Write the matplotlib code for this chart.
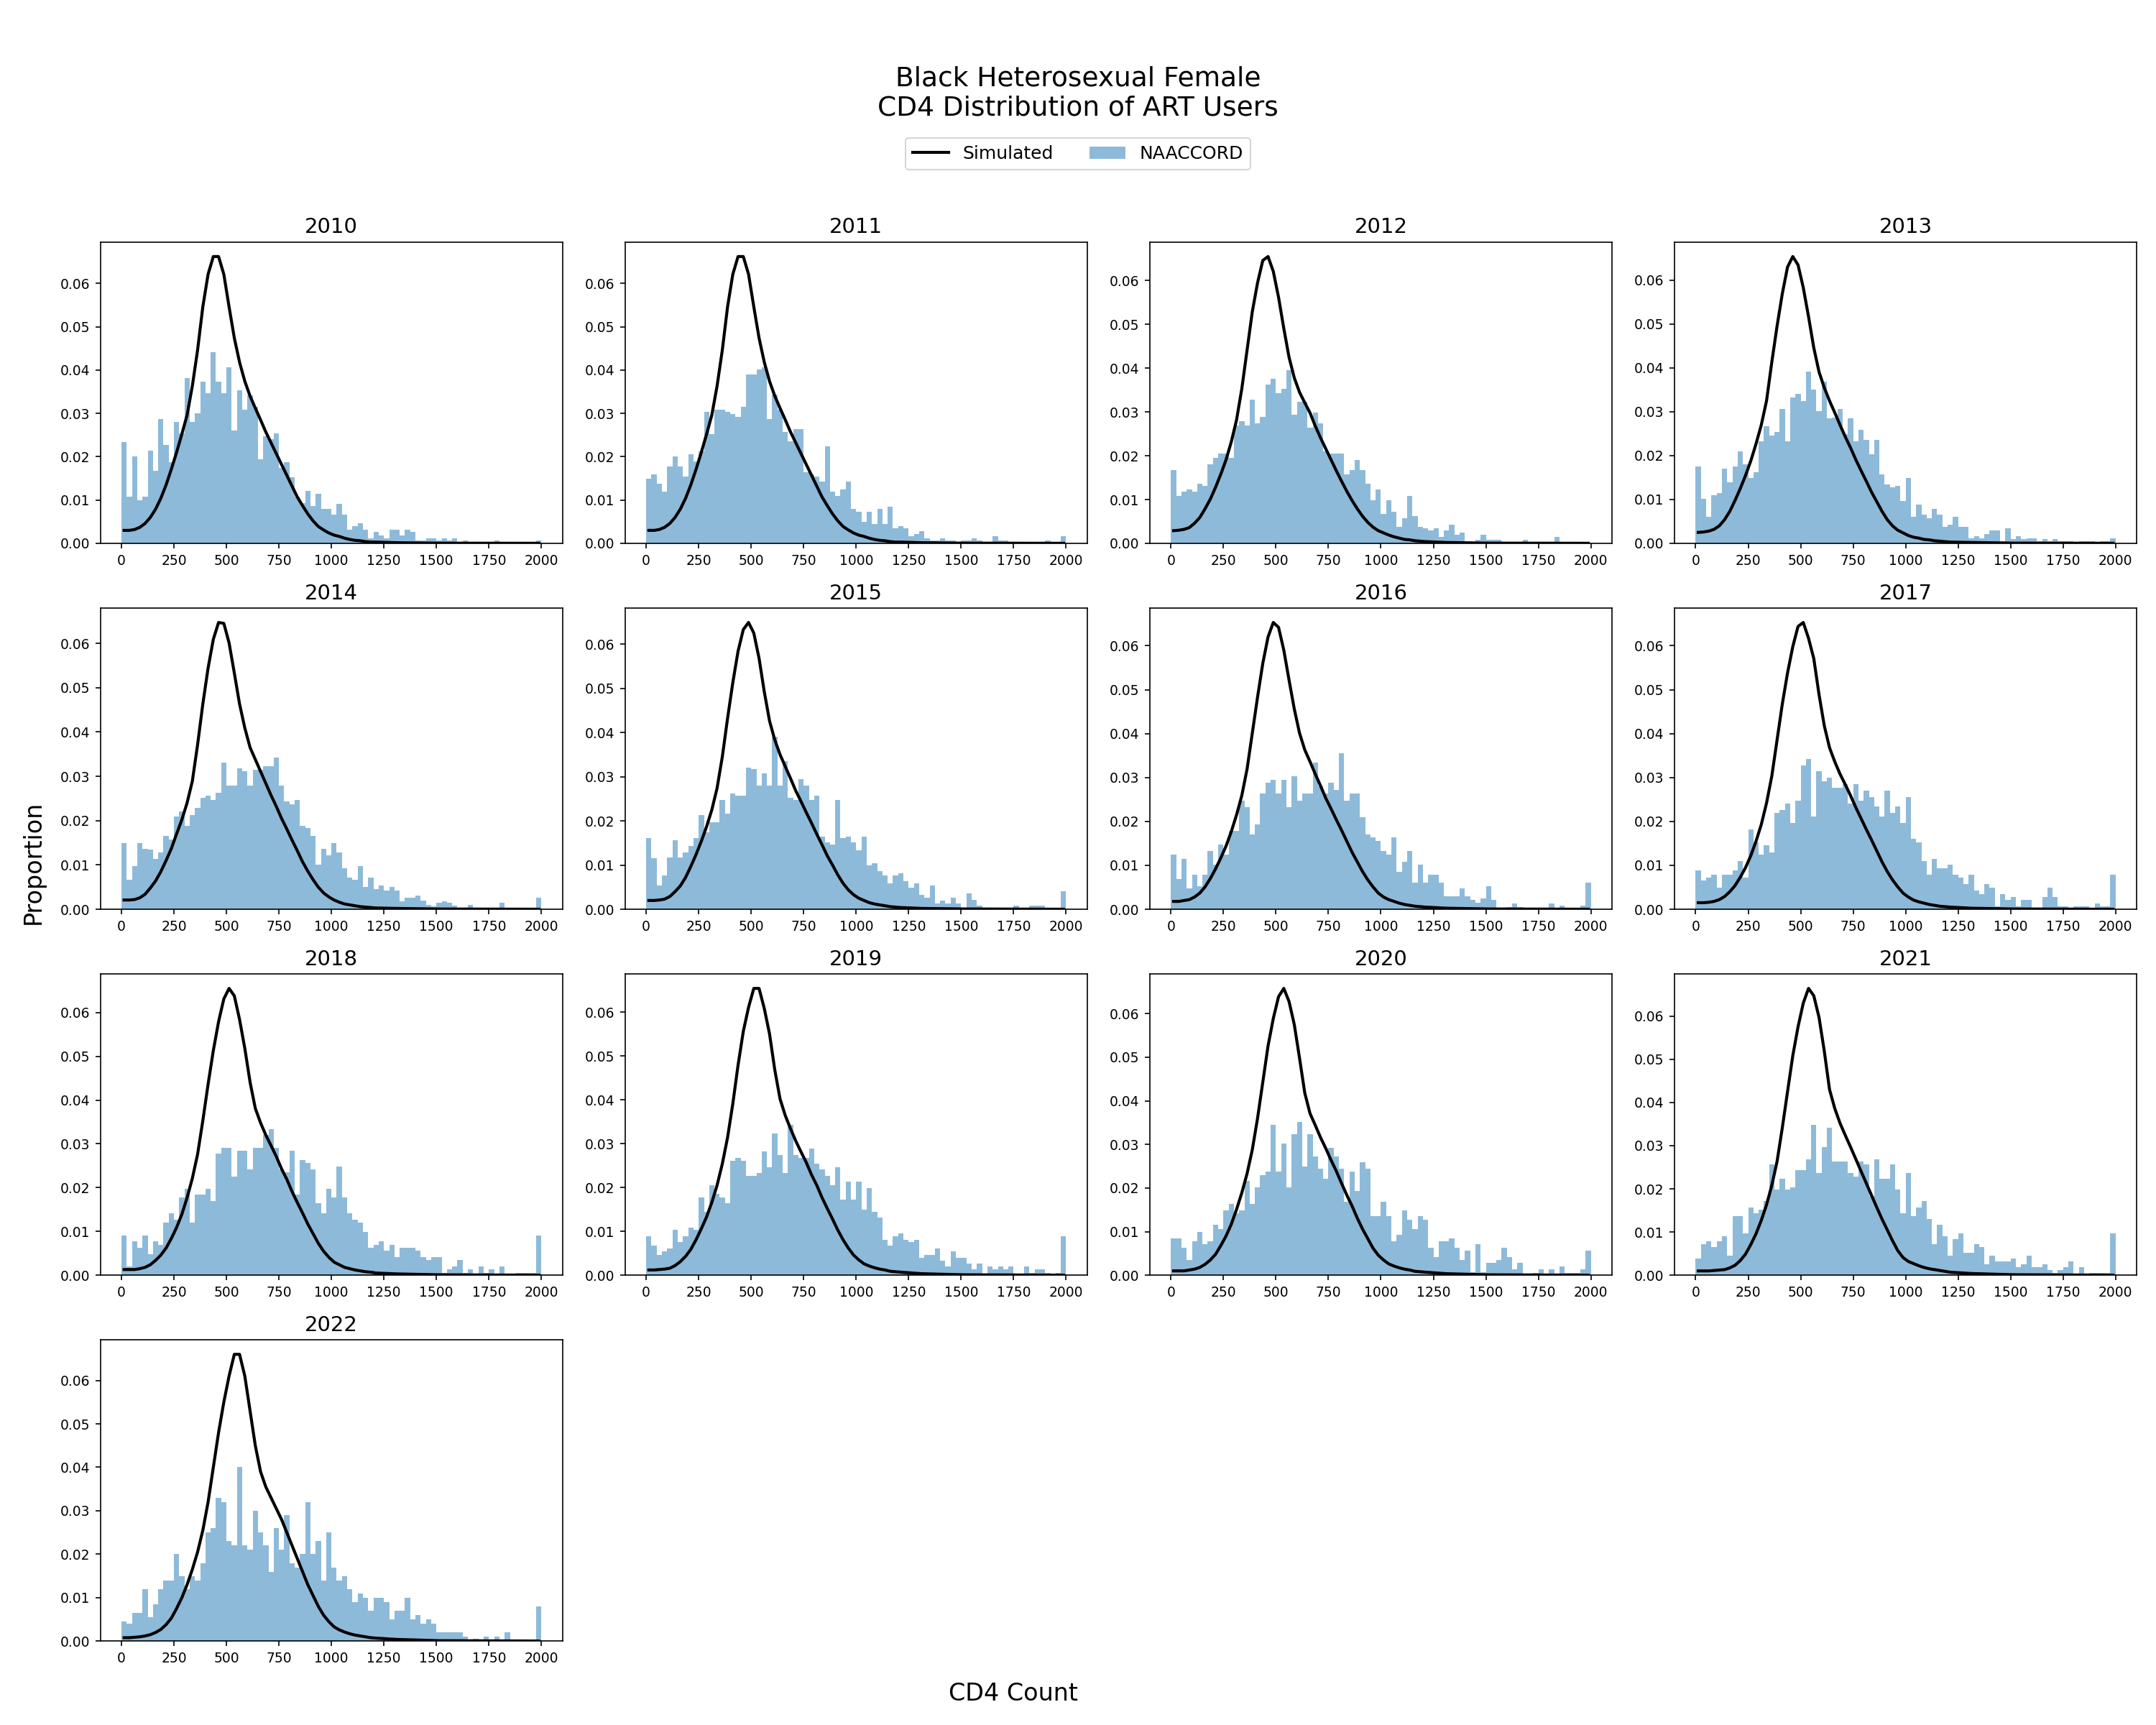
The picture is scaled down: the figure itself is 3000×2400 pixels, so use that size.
import matplotlib.pyplot as plt
import numpy as np

# NAACCORD histogram uses 25-wide CD4 bins from 0 to 2000
BIN_WIDTH = 25
BIN_EDGES = np.arange(0, 2000 + BIN_WIDTH, BIN_WIDTH)

# simulated curve is read at bin centres up to 1212.5, then a few tail points
SIM_X = list(np.arange(12.5, 1225, 25)) + [1312.5, 1512.5, 1987.5]

years = [2010, 2011, 2012, 2013, 2014, 2015, 2016, 2017, 2018, 2019, 2020, 2021, 2022]

# all values below are proportions x 1000

naaccord_2010 = [23.4, 10.7, 20.0, 10.0, 10.7, 21.4, 16.8, 28.7, 22.7, 18.7,
                 28.1, 25.4, 38.1, 28.1, 30.1, 37.4, 34.7, 44.1, 37.4, 34.7,
                 40.7, 26.1, 35.4, 30.8, 34.1, 31.5, 19.4, 24.7, 24.1, 25.4,
                 17.4, 18.7, 15.2, 10.7, 9.3, 12.1, 8.6, 11.4, 7.9, 7.9,
                 6.6, 9.2, 6.6, 3.2, 3.9, 4.6, 3.2, 1.2, 2.6, 1.9,
                 1.2, 3.2, 3.2, 1.9, 3.2, 2.6, 0.6, 0.6, 1.2, 1.2,
                 0.6, 1.2, 0.6, 1.2, 0, 0.6, 0, 0, 0, 0,
                 0, 0.6, 0, 0, 0, 0, 0, 0, 0, 0.6]
sim_2010 = [3.0, 3.0, 3.2, 3.7, 4.6, 6.0, 7.9, 10.4, 13.5, 17.1,
            21.0, 25.2, 29.6, 36.3, 44.6, 54.6, 62.1, 66.2, 66.2, 62.1,
            54.6, 47.4, 41.8, 37.4, 34.0, 31.2, 28.5, 25.7, 23.2, 20.7,
            18.2, 15.7, 13.2, 10.7, 8.7, 6.8, 5.2, 3.9, 3.1, 2.4,
            1.9, 1.6, 1.2, 0.9, 0.7, 0.6, 0.4, 0.3, 0.3, 0.15, 0.05, 0.02]

naaccord_2011 = [14.9, 16.0, 13.7, 12.0, 17.7, 20.0, 17.7, 15.4, 20.5, 18.9,
                 21.2, 30.3, 25.2, 30.8, 30.8, 30.3, 29.8, 29.2, 31.5, 39.0,
                 39.0, 40.2, 40.7, 28.7, 34.3, 30.8, 25.7, 23.5, 26.3, 26.3,
                 16.5, 16.0, 15.4, 14.2, 22.4, 12.0, 10.9, 12.5, 14.2, 8.0,
                 7.3, 5.0, 7.3, 4.5, 8.0, 4.5, 8.5, 3.4, 3.9, 3.4,
                 1.7, 2.2, 2.9, 1.1, 0.6, 0.6, 1.1, 0.6, 0.6, 0,
                 0.6, 0.6, 1.1, 0.6, 0, 0, 1.7, 0.6, 0.6, 0,
                 0, 0, 0, 0, 0, 0, 0.6, 0, 0, 1.7]
sim_2011 = [3.0, 3.0, 3.2, 3.7, 4.6, 6.0, 7.9, 10.4, 13.5, 17.1,
            21.0, 25.2, 29.6, 36.3, 44.6, 54.6, 62.1, 66.2, 66.2, 62.1,
            54.6, 47.4, 41.8, 37.4, 34.0, 31.2, 28.5, 25.7, 23.2, 20.7,
            18.2, 15.7, 13.2, 10.7, 8.7, 6.8, 5.2, 3.9, 3.1, 2.4,
            1.9, 1.6, 1.2, 0.9, 0.7, 0.6, 0.4, 0.3, 0.3, 0.15, 0.05, 0.02]

naaccord_2012 = [16.7, 10.8, 11.8, 12.3, 11.8, 13.7, 13.2, 18.0, 19.5, 20.5,
                 20.5, 19.5, 26.9, 27.9, 26.9, 32.9, 27.4, 28.9, 36.3, 37.6,
                 34.3, 35.3, 39.6, 29.4, 32.4, 32.4, 26.4, 29.9, 27.4, 21.0,
                 20.5, 20.5, 20.5, 15.7, 16.7, 19.0, 16.7, 13.7, 9.8, 12.3,
                 6.8, 9.8, 7.3, 3.8, 5.8, 10.8, 6.3, 3.8, 3.4, 2.9,
                 3.4, 1.4, 2.9, 4.3, 1.9, 2.4, 0, 0, 0.9, 1.9,
                 0.9, 0.9, 0.9, 0, 0.4, 0.4, 0.4, 0.9, 0.4, 0.4,
                 0.4, 0.4, 0.4, 1.4, 0.4, 0.4, 0, 0.4, 0, 0]
sim_2012 = [2.9, 3.0, 3.2, 3.6, 4.6, 5.9, 7.9, 10.1, 12.8, 15.8,
            19.1, 23.2, 28.2, 35.3, 44.1, 52.9, 59.5, 64.6, 65.5, 62.1,
            56.2, 49.1, 42.5, 37.8, 34.5, 32.1, 29.8, 26.8, 24.1, 21.6,
            19.1, 16.6, 14.2, 11.9, 9.8, 7.9, 6.2, 4.8, 3.7, 2.9,
            2.4, 1.9, 1.5, 1.2, 0.9, 0.8, 0.6, 0.5, 0.4, 0.2, 0.06, 0.02]

naaccord_2013 = [17.5, 10.1, 6.1, 10.9, 11.4, 17.0, 14.0, 17.5, 20.9, 18.0,
                 14.9, 16.2, 23.3, 26.7, 24.6, 25.4, 30.7, 23.3, 33.3, 34.1,
                 32.5, 39.1, 35.1, 30.2, 36.8, 28.5, 28.7, 30.7, 24.9, 28.5,
                 23.3, 25.9, 23.6, 20.3, 23.6, 15.7, 13.5, 12.7, 13.1, 9.6,
                 14.9, 6.1, 8.8, 6.5, 5.7, 7.8, 6.5, 3.8, 4.3, 6.1,
                 3.8, 3.8, 1.2, 1.7, 1.2, 2.2, 3.0, 3.0, 0.5, 3.5,
                 0.9, 1.7, 0.9, 1.2, 1.2, 0.5, 0.9, 0.5, 0.9, 0.5,
                 0.5, 0.5, 0, 0.5, 0.5, 0.5, 0, 0.5, 0.5, 1.2]
sim_2013 = [2.5, 2.6, 2.8, 3.2, 4.0, 5.4, 7.3, 9.8, 12.5, 15.5,
            18.8, 22.7, 27.0, 32.5, 41.3, 49.5, 56.9, 63.0, 65.4, 63.5,
            58.3, 51.7, 44.6, 39.1, 35.5, 32.5, 29.8, 27.0, 24.3, 21.8,
            19.1, 16.6, 14.2, 11.7, 9.5, 7.3, 5.4, 4.0, 3.0, 2.4,
            1.8, 1.4, 1.2, 0.9, 0.8, 0.6, 0.5, 0.4, 0.3, 0.2, 0.06, 0.02]

naaccord_2014 = [14.9, 6.6, 9.8, 14.9, 13.7, 13.4, 11.3, 12.9, 16.5, 15.7,
                 20.9, 22.0, 18.8, 21.2, 22.8, 25.1, 25.6, 24.7, 26.3, 33.1,
                 27.9, 27.9, 31.8, 31.1, 27.9, 31.5, 31.5, 32.3, 32.3, 34.2,
                 27.9, 24.3, 23.7, 24.7, 18.8, 18.4, 16.5, 10.1, 13.7, 12.1,
                 14.9, 12.9, 9.3, 7.1, 6.6, 9.8, 5.1, 7.1, 4.6, 5.4,
                 4.3, 5.1, 4.3, 1.8, 2.6, 2.6, 3.1, 2.0, 1.0, 0.7,
                 1.5, 1.8, 1.4, 0.9, 0.4, 0.4, 1.0, 0.4, 0.4, 0.4,
                 0.4, 0.4, 1.5, 0.4, 0.4, 0.4, 0.4, 0.4, 0.4, 2.6]
sim_2014 = [2.1, 2.1, 2.2, 2.6, 3.4, 4.8, 6.4, 8.5, 11.0, 13.7,
            17.0, 20.2, 24.0, 28.9, 37.1, 46.3, 54.4, 60.9, 64.7, 64.5,
            60.1, 53.3, 46.3, 40.9, 36.5, 33.8, 31.1, 28.4, 25.7, 23.2,
            20.5, 18.1, 15.6, 13.2, 10.7, 8.6, 6.7, 5.0, 3.7, 2.8,
            2.1, 1.6, 1.2, 1.0, 0.8, 0.6, 0.5, 0.4, 0.3, 0.2, 0.07, 0.02]

naaccord_2015 = [16.1, 11.5, 5.4, 7.7, 11.8, 15.6, 11.8, 12.8, 14.3, 16.1,
                 21.3, 17.4, 19.7, 19.7, 24.8, 21.6, 26.2, 25.7, 25.7, 32.1,
                 31.7, 28.0, 30.8, 28.0, 39.1, 28.0, 33.5, 25.2, 24.7, 29.5,
                 28.0, 24.7, 25.7, 16.5, 15.1, 14.6, 24.7, 16.1, 16.5, 15.1,
                 13.3, 16.5, 10.0, 10.5, 8.7, 7.7, 5.9, 7.7, 8.2, 6.4,
                 4.9, 5.9, 3.2, 2.7, 5.4, 1.4, 1.9, 1.4, 2.7, 1.4,
                 0.4, 3.6, 2.2, 0.9, 0.4, 0, 0.4, 0.4, 0.4, 0.4,
                 0.9, 0.4, 0.4, 0.9, 0.9, 0.9, 0.4, 0.4, 0.4, 4.1]
sim_2015 = [2.0, 2.0, 2.1, 2.3, 2.9, 4.0, 5.3, 7.2, 9.7, 12.4,
            15.4, 18.7, 22.5, 27.4, 34.5, 43.2, 51.3, 58.4, 63.3, 64.9,
            62.5, 56.8, 49.2, 42.6, 38.3, 35.0, 32.3, 29.6, 26.8, 24.4,
            21.9, 19.5, 17.0, 14.6, 12.1, 10.0, 7.8, 5.9, 4.4, 3.3,
            2.5, 2.0, 1.5, 1.2, 1.0, 0.8, 0.6, 0.5, 0.4, 0.2, 0.08, 0.02]

naaccord_2016 = [12.4, 6.9, 11.5, 4.7, 7.8, 5.3, 7.8, 13.2, 10.1, 14.7,
                 12.4, 17.8, 17.8, 24.8, 23.2, 17.0, 19.4, 26.3, 28.8, 29.4,
                 26.3, 29.4, 23.2, 30.3, 24.8, 26.3, 26.3, 33.4, 28.0, 26.3,
                 28.8, 27.1, 35.6, 24.8, 26.3, 26.3, 20.9, 17.0, 16.3, 15.5,
                 13.2, 12.4, 16.3, 8.5, 10.8, 13.2, 6.1, 10.1, 6.1, 7.8,
                 7.8, 6.1, 3.0, 3.0, 3.0, 4.7, 3.0, 2.2, 1.5, 2.4,
                 5.3, 2.2, 0.4, 0, 0.5, 1.4, 0.5, 0.4, 0.4, 0.4,
                 0.4, 0.4, 1.4, 0.4, 0.9, 0.4, 0.4, 0.4, 0.9, 6.1]
sim_2016 = [1.8, 1.8, 2.0, 2.2, 2.8, 3.7, 5.1, 7.0, 9.2, 11.7,
            14.4, 17.7, 21.5, 25.9, 31.9, 40.1, 48.3, 56.0, 62.0, 65.3,
            64.2, 59.0, 52.2, 45.6, 40.1, 36.3, 33.6, 30.8, 28.1, 25.3,
            22.9, 20.4, 18.0, 15.5, 13.0, 10.8, 8.6, 6.7, 5.1, 3.7,
            2.8, 2.2, 1.8, 1.4, 1.1, 0.9, 0.7, 0.6, 0.5, 0.25, 0.08, 0.02]

naaccord_2017 = [8.8, 6.5, 7.3, 7.9, 5.0, 7.9, 7.9, 8.8, 10.9, 7.3,
                 18.1, 15.3, 12.4, 14.5, 13.0, 21.9, 22.6, 24.0, 19.6, 24.7,
                 32.7, 34.2, 21.1, 31.4, 29.1, 29.9, 27.6, 27.6, 28.5, 24.0,
                 28.5, 24.7, 27.0, 25.5, 23.4, 21.1, 27.0, 21.9, 23.4, 19.6,
                 25.5, 16.0, 15.3, 10.9, 7.9, 11.5, 9.4, 9.4, 10.2, 7.9,
                 7.3, 5.8, 7.9, 4.3, 3.5, 5.8, 5.0, 0.7, 3.5, 2.2,
                 2.8, 0.7, 2.2, 2.2, 0, 0, 2.8, 5.0, 2.8, 0.7,
                 0.7, 0, 0.7, 0.7, 0.7, 0, 1.4, 0.7, 0.7, 7.9]
sim_2017 = [1.5, 1.5, 1.6, 1.8, 2.2, 2.9, 4.0, 5.4, 7.3, 9.5,
            12.2, 15.5, 19.3, 24.2, 30.3, 38.5, 46.7, 53.8, 59.8, 64.4,
            65.3, 61.7, 57.1, 48.9, 41.8, 36.8, 33.6, 30.8, 28.4, 25.9,
            23.2, 20.7, 18.2, 15.8, 13.3, 10.8, 8.6, 6.7, 5.1, 3.7,
            2.8, 2.1, 1.7, 1.4, 1.1, 0.9, 0.7, 0.6, 0.5, 0.25, 0.08, 0.02]

naaccord_2018 = [9.1, 2.0, 7.8, 6.3, 9.1, 4.8, 7.8, 7.0, 12.1, 14.2,
                 12.7, 17.7, 19.8, 12.1, 18.5, 18.5, 19.8, 17.0, 27.7, 29.1,
                 29.1, 22.6, 28.4, 28.4, 24.1, 29.1, 29.1, 32.0, 33.4, 29.1,
                 24.1, 23.5, 28.4, 18.5, 26.3, 25.6, 24.1, 16.4, 14.2, 19.8,
                 17.7, 24.8, 17.7, 14.2, 12.7, 12.1, 9.9, 6.3, 7.0, 7.8,
                 5.7, 7.0, 4.2, 6.3, 6.3, 6.3, 5.7, 4.2, 3.5, 4.2,
                 4.2, 0.5, 1.4, 2.0, 3.5, 0.5, 1.4, 0, 2.0, 0.5,
                 1.4, 0, 2.0, 0, 0, 0.5, 0.5, 0.5, 0.5, 9.1]
sim_2018 = [1.3, 1.3, 1.3, 1.5, 1.8, 2.4, 3.4, 4.6, 6.2, 8.4,
            10.9, 13.9, 17.7, 22.1, 27.6, 35.3, 43.6, 51.3, 57.9, 63.1,
            65.5, 63.8, 58.4, 51.8, 44.1, 38.1, 34.8, 32.0, 29.6, 27.1,
            24.3, 21.9, 19.1, 16.6, 14.2, 11.7, 9.5, 7.3, 5.5, 4.1,
            3.0, 2.4, 1.8, 1.5, 1.2, 1.0, 0.8, 0.7, 0.5, 0.3, 0.1, 0.02]

naaccord_2019 = [8.9, 6.8, 4.7, 5.5, 6.1, 10.3, 7.5, 8.9, 10.9, 10.3,
                 17.8, 14.4, 20.6, 18.5, 17.8, 16.5, 26.1, 26.7, 26.1, 22.6,
                 22.6, 23.3, 28.2, 24.7, 32.3, 27.4, 23.3, 34.3, 27.4, 26.7,
                 26.7, 28.9, 25.4, 24.1, 22.6, 20.6, 24.7, 17.2, 21.3, 17.2,
                 21.3, 15.0, 19.8, 14.4, 13.1, 8.1, 6.8, 8.9, 9.6, 8.1,
                 7.5, 8.1, 4.0, 4.7, 4.7, 6.1, 3.3, 2.0, 5.5, 4.0,
                 4.0, 2.7, 1.4, 2.7, 0, 2.0, 1.4, 2.0, 1.4, 2.0,
                 0, 0, 2.0, 0.5, 1.4, 1.4, 0.5, 0, 0.5, 8.9]
sim_2019 = [1.2, 1.2, 1.3, 1.4, 1.6, 2.2, 3.1, 4.3, 5.9, 8.1,
            10.6, 13.3, 16.6, 20.5, 25.4, 31.4, 39.1, 47.9, 55.6, 61.1,
            65.4, 65.4, 60.8, 55.0, 46.8, 40.2, 36.4, 33.4, 30.6, 28.1,
            25.7, 22.9, 20.5, 17.7, 15.2, 12.8, 10.3, 8.1, 6.2, 4.6,
            3.5, 2.6, 2.1, 1.7, 1.4, 1.2, 0.9, 0.8, 0.7, 0.35, 0.1, 0.02]

naaccord_2020 = [8.5, 8.5, 6.3, 3.5, 7.8, 10.0, 7.2, 7.8, 11.5, 10.6,
                 14.9, 16.4, 14.3, 14.9, 21.6, 16.4, 20.1, 22.9, 23.7, 34.5,
                 23.7, 30.2, 20.1, 32.3, 35.1, 25.0, 32.3, 27.2, 24.4, 22.2,
                 29.3, 27.2, 24.4, 16.9, 23.7, 19.3, 25.9, 24.4, 13.6, 13.6,
                 16.9, 13.6, 7.8, 9.3, 14.9, 12.8, 10.6, 13.6, 12.8, 6.3,
                 4.2, 7.8, 7.8, 8.5, 6.3, 3.5, 5.7, 0.7, 7.2, 0.7,
                 2.9, 2.9, 3.5, 6.3, 4.2, 1.4, 2.9, 0, 0, 0.6,
                 1.4, 0, 1.4, 0, 2.0, 0.6, 0.6, 0.6, 1.4, 5.7]
sim_2020 = [1.0, 1.0, 1.0, 1.2, 1.4, 1.8, 2.5, 3.5, 4.8, 6.8,
            9.0, 11.7, 15.1, 18.9, 23.3, 28.8, 36.0, 44.3, 52.6, 58.9,
            63.9, 65.8, 62.8, 57.5, 49.8, 41.8, 37.1, 34.4, 31.6, 29.1,
            26.4, 23.9, 21.1, 18.4, 15.9, 13.1, 10.6, 8.4, 6.2, 4.6,
            3.5, 2.6, 2.1, 1.7, 1.4, 1.2, 0.9, 0.8, 0.7, 0.35, 0.1, 0.02]

naaccord_2021 = [3.9, 7.2, 7.9, 6.6, 7.9, 9.1, 4.6, 13.7, 13.7, 9.7,
                 15.7, 14.4, 15.1, 17.1, 25.6, 19.8, 22.3, 19.8, 20.4, 24.3,
                 24.3, 26.9, 34.8, 23.6, 29.6, 34.1, 26.3, 26.3, 26.3, 23.6,
                 22.9, 26.3, 25.6, 18.4, 26.9, 22.3, 22.3, 25.6, 19.8, 14.4,
                 23.6, 13.7, 15.7, 17.1, 13.1, 7.2, 11.7, 9.1, 4.6, 8.4,
                 9.7, 5.2, 5.2, 7.2, 6.6, 2.5, 4.6, 3.2, 3.2, 3.2,
                 3.9, 1.9, 2.5, 4.6, 1.9, 1.9, 2.5, 1.2, 0.6, 1.2,
                 1.9, 3.2, 0, 1.9, 0, 0.6, 0.6, 0.6, 0.6, 9.7]
sim_2021 = [1.0, 1.0, 1.0, 1.1, 1.2, 1.3, 1.7, 2.3, 3.4, 4.9,
            7.1, 9.6, 12.7, 16.3, 20.8, 26.3, 34.1, 42.5, 50.8, 57.5,
            63.0, 66.4, 64.7, 59.7, 51.9, 43.0, 38.6, 35.2, 32.4, 29.7,
            26.9, 24.1, 21.3, 18.5, 15.7, 13.0, 10.5, 8.0, 5.7, 4.1,
            3.2, 2.7, 2.2, 1.8, 1.5, 1.3, 1.1, 0.9, 0.7, 0.4, 0.12, 0.02]

naaccord_2022 = [4.5, 4.0, 6.5, 6.5, 12.0, 5.5, 8.5, 12.0, 14.0, 14.0,
                 20.0, 15.0, 12.0, 15.0, 14.0, 18.0, 25.0, 26.0, 33.0, 32.0,
                 23.0, 22.0, 40.0, 22.0, 21.0, 30.0, 25.0, 22.0, 16.0, 26.0,
                 21.0, 29.0, 18.0, 17.0, 20.0, 32.0, 20.0, 23.0, 14.0, 25.0,
                 17.0, 14.0, 15.0, 12.0, 9.0, 11.0, 10.0, 7.0, 10.0, 10.0,
                 9.0, 5.0, 7.0, 7.0, 10.0, 5.0, 6.0, 4.0, 5.0, 4.0,
                 2.0, 2.0, 2.0, 2.0, 2.0, 1.0, 0, 0.5, 0, 1.0,
                 0, 1.0, 0, 2.0, 0, 0, 0, 0, 0, 8.0]
sim_2022 = [0.8, 0.8, 0.9, 1.0, 1.2, 1.5, 2.0, 2.7, 3.8, 5.3,
            7.5, 10.0, 13.0, 16.5, 20.5, 25.5, 32.0, 40.0, 48.0, 55.0,
            61.0, 66.0, 66.0, 61.0, 53.0, 45.0, 39.0, 35.5, 33.0, 30.5,
            28.0, 25.0, 22.0, 19.0, 16.0, 13.0, 10.5, 8.0, 6.0, 4.5,
            3.3, 2.6, 2.1, 1.7, 1.4, 1.2, 1.0, 0.8, 0.7, 0.4, 0.12, 0.03]


def plot_year(ax, year, naaccord, sim):
    # histogram of observed CD4 counts
    ax.bar(BIN_EDGES[:-1], np.array(naaccord) / 1000, width=BIN_WIDTH, align='edge',
           color='C0', alpha=0.5, linewidth=0, label='NAACCORD')
    # simulated distribution
    ax.plot(SIM_X, np.array(sim) / 1000, color='black', linewidth=2, label='Simulated')
    ax.set_title(str(year), fontsize=14)
    ax.tick_params(labelsize=9)


def main():
    data = {
        2010: (naaccord_2010, sim_2010),
        2011: (naaccord_2011, sim_2011),
        2012: (naaccord_2012, sim_2012),
        2013: (naaccord_2013, sim_2013),
        2014: (naaccord_2014, sim_2014),
        2015: (naaccord_2015, sim_2015),
        2016: (naaccord_2016, sim_2016),
        2017: (naaccord_2017, sim_2017),
        2018: (naaccord_2018, sim_2018),
        2019: (naaccord_2019, sim_2019),
        2020: (naaccord_2020, sim_2020),
        2021: (naaccord_2021, sim_2021),
        2022: (naaccord_2022, sim_2022),
    }

    fig, axes = plt.subplots(4, 4, figsize=(20, 16))
    plt.subplots_adjust(left=0.0466, right=0.991, bottom=0.0486, top=0.8596,
                        wspace=0.136, hspace=0.215)

    axes = axes.flatten()
    for i, year in enumerate(years):
        naaccord, sim = data[year]
        plot_year(axes[i], year, naaccord, sim)

    # remove unused panels
    for ax in axes[len(years):]:
        ax.remove()

    fig.suptitle('Black Heterosexual Female\nCD4 Distribution of ART Users', fontsize=18, y=0.962)

    handles, labels = axes[0].get_legend_handles_labels()
    # put Simulated first
    order = [labels.index('Simulated'), labels.index('NAACCORD')]
    fig.legend([handles[j] for j in order], [labels[j] for j in order],
               loc='center', bbox_to_anchor=(0.5, 0.9108), ncol=2, fontsize=12)

    fig.text(0.0153, 0.5, 'Proportion', rotation=90, va='center', ha='center', fontsize=16)
    fig.text(0.470, 0.0183, 'CD4 Count', va='center', ha='center', fontsize=16)

    plt.savefig('out.png', dpi=150)
    plt.close()


if __name__ == "__main__":
    main()
